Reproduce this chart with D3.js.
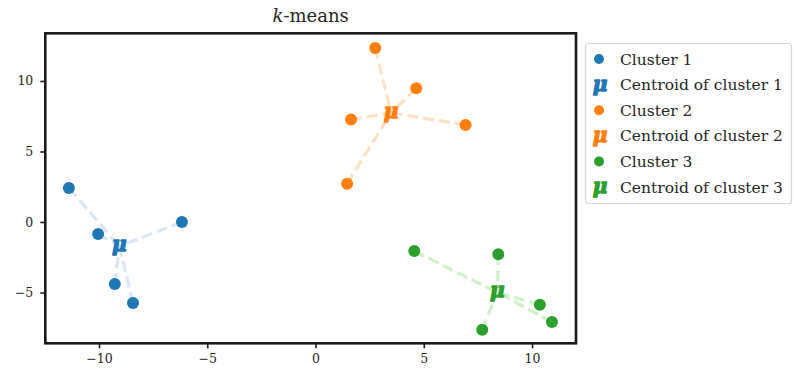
<!DOCTYPE html>
<html><head><meta charset="utf-8">
<script src="https://cdn.jsdelivr.net/npm/d3@7"></script>
<style>body{margin:0;background:#fff}</style>
</head><body>
<svg id="c" width="794" height="371"></svg>
<script>
const cluster1 = [[-11.39,2.41],[-10.04,-0.85],[-6.17,0.0],[-9.27,-4.40],[-8.43,-5.74]];
const cluster2 = [[2.76,12.34],[4.65,9.48],[1.64,7.26],[6.93,6.88],[1.46,2.72]];
const cluster3 = [[4.56,-2.06],[8.44,-2.29],[10.36,-5.87],[10.92,-7.09],[7.70,-7.64]];
const clusterNames = ["Cluster 1","Cluster 2","Cluster 3"];
const centroidNames = ["Centroid of cluster 1","Centroid of cluster 2","Centroid of cluster 3"];
const xTicks = [-10,-5,0,5,10];
const yTicks = [-5,0,5,10];
const colors = ["#1f77b4","#ff7f0e","#2ca02c"];
const lightColors = ["#aec7e8","#ffbb78","#98df8a"];

const clusters = [cluster1, cluster2, cluster3];
const svg = d3.select("#c");
const L=45.3, R=576, T=33.3, B=343.3;
const x = d3.scaleLinear().domain([-12.48,12.03]).range([L,R]);
const y = d3.scaleLinear().domain([-8.6,13.38]).range([B,T]);
const font = "'DejaVu Serif', serif";
const fmt = d => (d<0? "\u2212"+Math.abs(d) : ""+d);

const xa = svg.append("g").attr("transform",`translate(0,${B})`)
  .call(d3.axisBottom(x).tickValues(xTicks).tickFormat(fmt).tickSize(5).tickPadding(6));
const ya = svg.append("g").attr("transform",`translate(${L},0)`)
  .call(d3.axisLeft(y).tickValues(yTicks).tickFormat(fmt).tickSize(5).tickPadding(7));
[xa,ya].forEach(a=>{
  a.select(".domain").remove();
  a.selectAll(".tick line").attr("stroke","#1a1a1a").attr("stroke-width",1.6);
  a.selectAll(".tick text").attr("font-family",font).attr("font-size",12.5).attr("fill","#262626");
});

const centroids = clusters.map(c=>[d3.mean(c,d=>d[0]), d3.mean(c,d=>d[1])]);

const plot = svg.append("g");
clusters.forEach((c,i)=>{
  const ctr = centroids[i];
  plot.selectAll(null).data(c).enter().append("line")
    .attr("x1",d=>x(d[0])).attr("y1",d=>y(d[1]))
    .attr("x2",x(ctr[0])).attr("y2",y(ctr[1]))
    .attr("stroke",lightColors[i]).attr("stroke-opacity",0.45)
    .attr("stroke-width",3.2).attr("stroke-dasharray","11,5");
});
clusters.forEach((c,i)=>{
  plot.selectAll(null).data(c).enter().append("circle")
    .attr("cx",d=>x(d[0])).attr("cy",d=>y(d[1])).attr("r",6).attr("fill",colors[i]);
});
function mu(g, cx, cy, color){
  g.append("text").attr("x",cx).attr("y",cy+5).attr("text-anchor","middle")
    .attr("font-family","'DejaVu Serif', serif").attr("font-style","italic")
    .attr("font-weight","bold").attr("font-size",20).attr("fill",color)
    .attr("stroke",color).attr("stroke-width",1.3).attr("stroke-linejoin","round").text("\u03bc");
}
centroids.forEach((ctr,i)=> mu(plot, x(ctr[0]), y(ctr[1]), colors[i]));

svg.append("rect").attr("x",L).attr("y",T).attr("width",R-L).attr("height",B-T)
  .attr("fill","none").attr("stroke","#1a1a1a").attr("stroke-width",2.6);

const title = svg.append("text").attr("x",(L+R)/2).attr("y",22).attr("text-anchor","middle")
  .attr("font-family",font).attr("font-size",18).attr("fill","#262626");
title.append("tspan").attr("font-style","italic").text("k");
title.append("tspan").text("-means");

const lg = svg.append("g");
lg.append("rect").attr("x",585.5).attr("y",43.5).attr("width",206).attr("height",160).attr("rx",3)
  .attr("fill","#fff").attr("stroke","#d6d6d6").attr("stroke-width",1.2);
const entries = [];
clusters.forEach((c,i)=>{
  entries.push({type:"dot",color:colors[i],label:clusterNames[i]});
  entries.push({type:"mu",color:colors[i],label:centroidNames[i]});
});
entries.forEach((e,k)=>{
  const yy = 59 + k*25.6;
  if(e.type==="dot"){
    lg.append("circle").attr("cx",599).attr("cy",yy).attr("r",5).attr("fill",e.color);
  } else {
    mu(lg, 600, yy+1, e.color);
  }
  lg.append("text").attr("x",620).attr("y",yy+5.5).attr("font-family",font).attr("font-size",15.5)
    .attr("fill","#262626").text(e.label);
});
</script>
</body></html>
